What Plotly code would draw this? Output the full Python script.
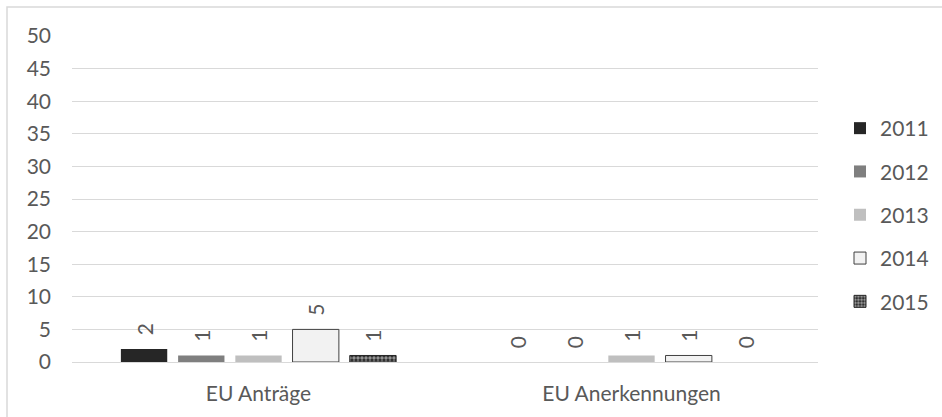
import plotly.graph_objects as go

categories = ["EU Anträge", "EU Anerkennungen"]
years = ["2011", "2012", "2013", "2014", "2015"]
values_2011 = [2, 0]
values_2012 = [1, 0]
values_2013 = [1, 1]
values_2014 = [5, 1]
values_2015 = [1, 0]
y_ticks = [0, 5, 10, 15, 20, 25, 30, 35, 40, 45, 50]

series = [values_2011, values_2012, values_2013, values_2014, values_2015]
outline_2014 = [1 if v > 0 else 0 for v in values_2014]
outline_2015 = [1 if v > 0 else 0 for v in values_2015]
styles = [
    dict(color="#262626", line=dict(width=0)),
    dict(color="#7f7f7f", line=dict(width=0)),
    dict(color="#bfbfbf", line=dict(width=0)),
    dict(color="#f2f2f2", line=dict(width=outline_2014, color="#404040")),
    dict(color="#262626", line=dict(width=outline_2015, color="#262626"),
         pattern=dict(shape=".", fgcolor="#ffffff", bgcolor="#262626", size=4, solidity=0.6)),
]

FONT = "Lato, Carlito, Calibri, sans-serif"
TXT = "#595959"
FS = 21

fig = go.Figure()
for i, (yr, vals) in enumerate(zip(years, series)):
    fig.add_trace(go.Bar(
        x=categories, y=vals, name=yr, marker=styles[i],
        texttemplate="\u00a0\u00a0%{y}", textposition="outside", textangle=-90,
        textfont=dict(family=FONT, size=FS, color=TXT),
        cliponaxis=False, legendgroup=yr,
    ))

L, R, T, B = 72, 124, 36, 55
W, H = 942, 417
pw, ph = W - L - R, H - T - B

fig.update_layout(
    width=W, height=H,
    margin=dict(l=L, r=R, t=T, b=B, autoexpand=False),
    paper_bgcolor="white", plot_bgcolor="white",
    barmode="group", bargap=0.233, bargroupgap=0.19,
    font=dict(family=FONT, size=FS, color=TXT),
    showlegend=True,
    legend=dict(x=(840 - L) / pw, xanchor="left", y=1 - (108 - T) / ph, yanchor="top",
                font=dict(family=FONT, size=FS, color=TXT), tracegroupgap=13,
                bgcolor="rgba(0,0,0,0)"),
    xaxis=dict(showgrid=False, showline=False, ticks="", ticklabelstandoff=17, automargin=False,
               tickfont=dict(family=FONT, size=FS, color=TXT)),
    yaxis=dict(range=[0, 50], tickvals=y_ticks, showgrid=True, gridcolor="#d9d9d9",
               gridwidth=1, zeroline=True, zerolinecolor="#d9d9d9", zerolinewidth=1,
               showline=False, ticks="", ticklabelstandoff=20, automargin=False,
               tickfont=dict(family=FONT, size=FS, color=TXT)),
    shapes=[dict(type="rect", xref="paper", yref="paper",
                 x0=(7 - L) / pw, x1=(W + 5 - L) / pw,
                 y0=-(H + 5 - T - ph) / ph, y1=(H - B - 7) / ph,
                 line=dict(color="#d9d9d9", width=1.5), fillcolor="rgba(0,0,0,0)", layer="below")],
)

fig.write_html("out.html", config={"displayModeBar": False},
               post_script="document.body.style.margin='0';document.body.style.overflow='hidden';")
